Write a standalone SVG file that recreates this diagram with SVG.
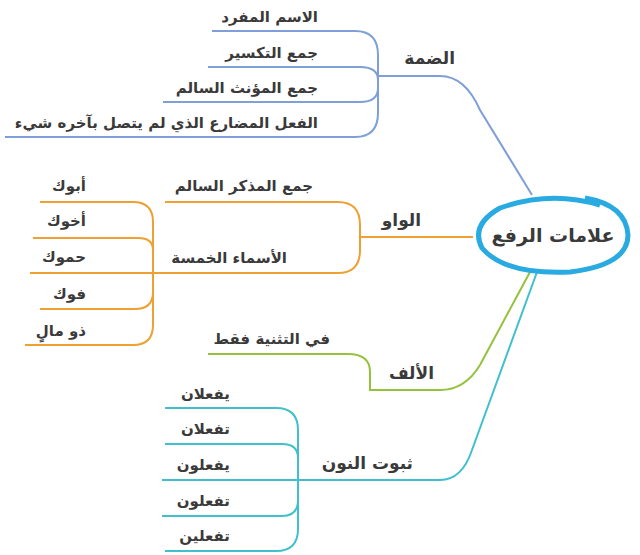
<svg xmlns="http://www.w3.org/2000/svg" width="640" height="555" viewBox="0 0 640 555">
<style>
text{font-family:"DejaVu Sans","Liberation Sans",sans-serif;font-weight:bold;fill:#3a3a3a;font-size:15px;text-anchor:start;direction:rtl}
.b{stroke:#7f9fd8}.o{stroke:#eea033}.g{stroke:#95c23d}.t{stroke:#3fc0cc}
path{fill:none;stroke-width:2}
.big{font-size:17px}
</style>
<rect width="640" height="555" fill="#fff"/>
<g id="connectors">
<path class="b" d="M212,31H355Q378,31 378,55V113Q378,137 355,137H5"/>
<path class="b" d="M208,67H360Q378,67 378,80M163,102H360Q378,102 378,88"/>
<path class="b" d="M378,76H440Q465,76 480,110L532,195"/>
<path class="o" d="M165,202H338Q360,202 360,225V250Q360,273 338,273H30"/>
<path class="o" d="M360,237H473"/>
<path class="o" d="M40,202H133Q153,202 153,222V325Q153,345 133,345H25"/>
<path class="o" d="M33,238H138Q153,238 153,250M40,309H135Q153,309 153,292"/>
<path class="g" d="M208,354H348Q370,354 370,372V390H440Q465,390 480,365L530,272"/>
<path class="t" d="M165,408H276Q298,408 298,430V529Q298,551 276,551H165"/>
<path class="t" d="M165,444H282Q298,444 298,458M162,516H282Q298,516 298,500"/>
<path class="t" d="M162,480H440Q462,480 472,450L537,272"/>
</g>
<g id="root">
<path d="M600,205Q550,190 500,208Q470,225 482,248Q505,275 570,272Q628,265 628,235Q626,205 585,198" style="stroke:#29abe2;stroke-width:5"/>
<text x="553" y="242" style="text-anchor:middle;font-size:19px">علامات الرفع</text>
</g>
<g id="damma"><text class="big" x="455" y="64">الضمة</text>
<text x="318" y="22">الاسم المفرد</text><text x="318" y="58">جمع التكسير</text>
<text x="318" y="93">جمع المؤنث السالم</text><text x="318" y="128">الفعل المضارع الذي لم يتصل بآخره شيء</text></g>
<g id="waw"><text class="big" x="421" y="226">الواو</text>
<text x="313" y="191">جمع المذكر السالم</text><text x="287" y="263">الأسماء الخمسة</text>
<text x="86" y="191">أبوك</text><text x="86" y="226">أخوك</text><text x="86" y="262">حموك</text><text x="86" y="299">فوك</text><text x="86" y="336">ذو مالٍ</text></g>
<g id="alif"><text class="big" x="434" y="379">الألف</text><text x="330" y="344">في التثنية فقط</text></g>
<g id="nun"><text class="big" x="413" y="469">ثبوت النون</text>
<text x="230" y="399">يفعلان</text><text x="230" y="434">تفعلان</text><text x="230" y="470">يفعلون</text><text x="230" y="506">تفعلون</text><text x="230" y="541">تفعلين</text></g>
</svg>
